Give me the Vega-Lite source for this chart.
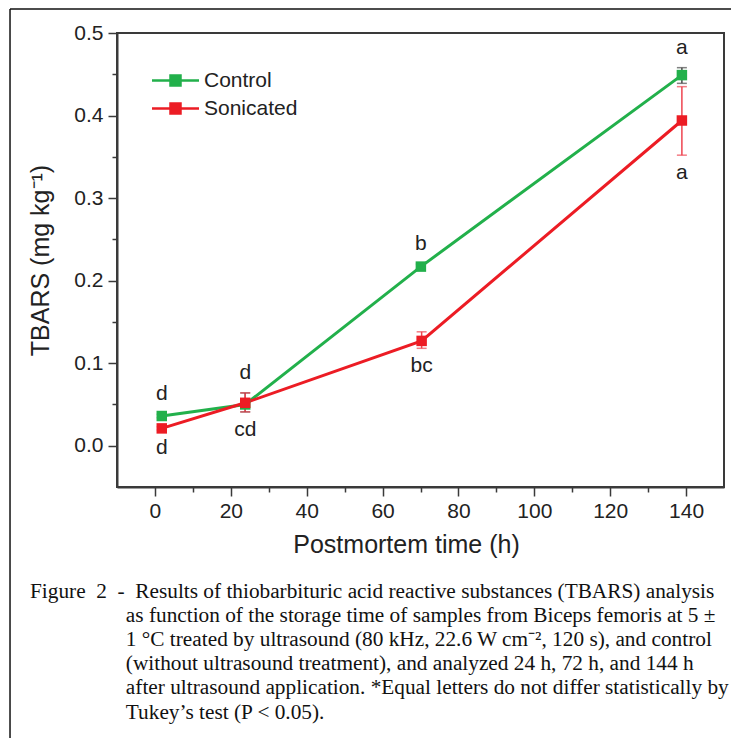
{
  "$schema": "https://vega.github.io/schema/vega-lite/v6.json",
  "width": 607,
  "height": 454,
  "autosize": {"type": "none"},
  "padding": {"left": 117, "top": 33, "right": 7, "bottom": 251},
  "background": "white",
  "config": {
    "font": "Liberation Sans",
    "view": {"stroke": "#3a3a3a", "strokeWidth": 2},
    "axis": {
      "grid": false,
      "domainColor": "#3a3a3a",
      "domainWidth": 2,
      "tickColor": "#3a3a3a",
      "tickWidth": 1.5,
      "labelColor": "#222222",
      "titleColor": "#222222",
      "labelFont": "Liberation Sans",
      "titleFont": "Liberation Sans",
      "labelFontSize": 21,
      "titleFontSize": 25,
      "titleFontWeight": "normal"
    }
  },
  "title": {
    "text": [
      "Figure\u00a0\u00a02\u00a0\u00a0-\u00a0\u00a0Results of thiobarbituric acid reactive substances (TBARS) analysis",
      "\u200b\u00a0\u00a0\u00a0\u00a0\u00a0\u00a0\u00a0\u00a0\u00a0\u00a0\u00a0\u00a0\u00a0\u00a0\u00a0\u00a0\u00a0\u00a0as function of the storage time of samples from Biceps femoris at 5 ±",
      "\u200b\u00a0\u00a0\u00a0\u00a0\u00a0\u00a0\u00a0\u00a0\u00a0\u00a0\u00a0\u00a0\u00a0\u00a0\u00a0\u00a0\u00a0\u00a01 °C treated by ultrasound (80 kHz, 22.6 W cm⁻², 120 s), and control",
      "\u200b\u00a0\u00a0\u00a0\u00a0\u00a0\u00a0\u00a0\u00a0\u00a0\u00a0\u00a0\u00a0\u00a0\u00a0\u00a0\u00a0\u00a0\u00a0(without ultrasound treatment), and analyzed 24 h, 72 h, and 144 h",
      "\u200b\u00a0\u00a0\u00a0\u00a0\u00a0\u00a0\u00a0\u00a0\u00a0\u00a0\u00a0\u00a0\u00a0\u00a0\u00a0\u00a0\u00a0\u00a0after ultrasound application. *Equal letters do not differ statistically by",
      "\u200b\u00a0\u00a0\u00a0\u00a0\u00a0\u00a0\u00a0\u00a0\u00a0\u00a0\u00a0\u00a0\u00a0\u00a0\u00a0\u00a0\u00a0\u00a0Tukey’s test (P < 0.05)."
    ],
    "orient": "bottom",
    "anchor": "start",
    "frame": "group",
    "dx": -87,
    "offset": -163,
    "baseline": "top",
    "font": "Liberation Serif",
    "fontSize": 21.3,
    "fontWeight": "normal",
    "color": "#111111",
    "lineHeight": 24.2
  },
  "datasets": {
    "tbars": [
      {"group": "Control", "time": 1.8, "tbars": 0.036, "lo": 0.034, "hi": 0.038, "letter": "d"},
      {"group": "Control", "time": 23.8, "tbars": 0.050, "lo": 0.041, "hi": 0.064, "letter": "d"},
      {"group": "Control", "time": 70.1, "tbars": 0.217, "lo": 0.214, "hi": 0.220, "letter": "b"},
      {"group": "Control", "time": 138.9, "tbars": 0.449, "lo": 0.439, "hi": 0.458, "letter": "a"},
      {"group": "Sonicated", "time": 1.8, "tbars": 0.021, "lo": 0.019, "hi": 0.023, "letter": "d"},
      {"group": "Sonicated", "time": 23.8, "tbars": 0.052, "lo": 0.041, "hi": 0.064, "letter": "cd"},
      {"group": "Sonicated", "time": 70.3, "tbars": 0.127, "lo": 0.118, "hi": 0.138, "letter": "bc"},
      {"group": "Sonicated", "time": 138.9, "tbars": 0.394, "lo": 0.352, "hi": 0.435, "letter": "a"}
    ]
  },
  "layer": [
    {
      "data": {"values": [{"frame": "left"}]},
      "mark": {"type": "rule", "color": "#111111", "strokeWidth": 1.5, "clip": false},
      "encoding": {
        "x": {"datum": -38.2, "type": "quantitative"},
        "y": {"datum": 0.529, "type": "quantitative"},
        "y2": {"datum": -0.36}
      }
    },
    {
      "data": {"values": [{"frame": "top"}]},
      "mark": {"type": "rule", "color": "#111111", "strokeWidth": 1.5, "clip": false},
      "encoding": {
        "x": {"datum": -38.2, "type": "quantitative"},
        "x2": {"datum": 200},
        "y": {"datum": 0.529, "type": "quantitative"}
      }
    },
    {
      "data": {"name": "tbars"},
      "mark": {"type": "rule", "strokeWidth": 1.5},
      "encoding": {
        "x": {"field": "time", "type": "quantitative"},
        "y": {"field": "lo", "type": "quantitative", "title": "TBARS (mg kg⁻¹)"},
        "y2": {"field": "hi"},
        "color": {"condition": {"test": "datum.group === 'Control'", "value": "#4a4a4a"}, "value": "#ee4450"}
      }
    },
    {
      "data": {"name": "tbars"},
      "transform": [{"fold": ["lo", "hi"], "as": ["end", "val"]}],
      "mark": {"type": "tick", "orient": "horizontal", "size": 10, "thickness": 1.5},
      "encoding": {
        "x": {"field": "time", "type": "quantitative"},
        "y": {"field": "val", "type": "quantitative", "title": "TBARS (mg kg⁻¹)"},
        "color": {"condition": {"test": "datum.group === 'Control'", "value": "#4a4a4a"}, "value": "#ee4450"}
      }
    },
    {
      "data": {"name": "tbars"},
      "mark": {"type": "line", "strokeWidth": 3},
      "encoding": {
        "x": {
          "field": "time",
          "type": "quantitative",
          "scale": {"domain": [-10, 150], "nice": false, "zero": false},
          "axis": {
            "title": "Postmortem time (h)",
            "values": [0, 10, 20, 30, 40, 50, 60, 70, 80, 90, 100, 110, 120, 130, 140],
            "labelExpr": "datum.value % 20 === 0 ? datum.label : ''",
            "tickSize": {"condition": {"test": "datum.value % 20 === 0", "value": 9}, "value": 5},
            "format": "d",
            "labelPadding": 4,
            "titlePadding": 11,
            "titleX": 289
          }
        },
        "y": {
          "field": "tbars",
          "type": "quantitative",
          "title": "TBARS (mg kg⁻¹)",
          "scale": {"domain": [-0.05, 0.5], "nice": false, "zero": false},
          "axis": {
            "values": [0, 0.05, 0.1, 0.15, 0.2, 0.25, 0.3, 0.35, 0.4, 0.45, 0.5],
            "labelExpr": "round(datum.value * 100) % 10 === 0 ? format(datum.value, '.1f') : ''",
            "tickSize": {"condition": {"test": "round(datum.value * 100) % 10 === 0", "value": 9}, "value": 5},
            "labelPadding": 5,
            "titlePadding": 20
          }
        },
        "stroke": {
          "field": "group",
          "type": "nominal",
          "scale": {"domain": ["Control", "Sonicated"], "range": ["#22b04b", "#ec1c24"]},
          "legend": {
            "title": null,
            "orient": "none",
            "legendX": 48,
            "legendY": 37,
            "symbolType": "M-4.7,0H4.7M-1,-1H1V1H-1Z",
            "symbolSize": 100,
            "symbolStrokeWidth": 2.5,
            "labelFontSize": 21,
            "labelFont": "Liberation Sans",
            "labelColor": "#222222",
            "labelOffset": 18,
            "rowPadding": 6,
            "padding": 0
          }
        }
      }
    },
    {
      "data": {"name": "tbars"},
      "mark": {"type": "point", "shape": "square", "filled": true, "size": 110, "opacity": 1},
      "encoding": {
        "x": {"field": "time", "type": "quantitative"},
        "y": {"field": "tbars", "type": "quantitative", "title": "TBARS (mg kg⁻¹)"},
        "fill": {
          "field": "group",
          "type": "nominal",
          "scale": {"domain": ["Control", "Sonicated"], "range": ["#22b04b", "#ec1c24"]},
          "legend": {
            "title": null,
            "orient": "none",
            "legendX": 48,
            "legendY": 37,
            "symbolType": "M-4.7,0H4.7M-1,-1H1V1H-1Z",
            "symbolSize": 100,
            "symbolStrokeWidth": 2.5,
            "labelFontSize": 21,
            "labelFont": "Liberation Sans",
            "labelColor": "#222222",
            "labelOffset": 18,
            "rowPadding": 6,
            "padding": 0
          }
        }
      }
    },
    {
      "data": {"name": "tbars"},
      "transform": [{"filter": "datum.group === 'Control'"}],
      "mark": {"type": "text", "dy": -20, "baseline": "middle", "fontSize": 21, "color": "#222222"},
      "encoding": {
        "x": {"field": "time", "type": "quantitative"},
        "y": {"field": "hi", "type": "quantitative", "title": "TBARS (mg kg⁻¹)"},
        "text": {"field": "letter"}
      }
    },
    {
      "data": {"name": "tbars"},
      "transform": [{"filter": "datum.group === 'Sonicated'"}],
      "mark": {"type": "text", "dy": 18, "baseline": "middle", "fontSize": 21, "color": "#222222"},
      "encoding": {
        "x": {"field": "time", "type": "quantitative"},
        "y": {"field": "lo", "type": "quantitative", "title": "TBARS (mg kg⁻¹)"},
        "text": {"field": "letter"}
      }
    }
  ]
}
